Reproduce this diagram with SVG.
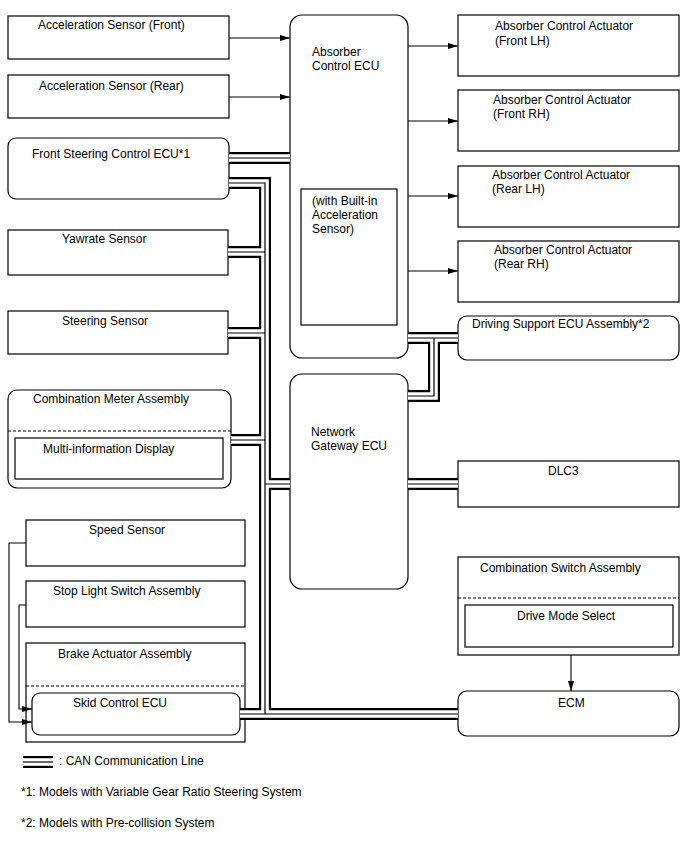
<svg xmlns="http://www.w3.org/2000/svg" xmlns:xlink="http://www.w3.org/1999/xlink" width="688" height="852" viewBox="0 0 688 852">
<style>
  .box{fill:#fff;stroke:#000;stroke-width:1.2}
  .inner{fill:none;stroke:#000;stroke-width:1.2}
  .dash{fill:none;stroke:#000;stroke-width:1;stroke-dasharray:3 2}
  .t{font-family:"Liberation Sans",Arial,sans-serif;font-size:12px;fill:#000}
  .arr{fill:none;stroke:#000;stroke-width:1.1;marker-end:url(#ah)}
  .canA{fill:none;stroke:#000;stroke-width:12;stroke-linejoin:miter}
  .canB{fill:none;stroke:#fff;stroke-width:7.6;stroke-linejoin:miter}
  .canC{fill:none;stroke:#000;stroke-width:1.2;stroke-linejoin:miter}
</style>
<defs>
  <marker id="ah" markerWidth="10" markerHeight="6" refX="10" refY="3" orient="auto" markerUnits="userSpaceOnUse">
    <path d="M0,0 L10,3 L0,6 Z" fill="#000"/>
  </marker>
  <path id="canPaths" d="M229 158 H290 M229 183 H265 V714 M228 252 H265 M228 333 H265 M231 440 H265 M265 484 H290 M240 714 H458 M408 338 H458 M408 396 H434 V338 M408 484 H458"/>
  <path id="legendCan" d="M23 762 H53"/>
</defs>
<rect width="688" height="852" fill="#fff"/>

<g id="nodes">
  <g id="accFront"><rect class="box" x="8" y="16" width="221" height="43"/><text class="t" x="38" y="29">Acceleration Sensor (Front)</text></g>
  <g id="accRear"><rect class="box" x="8" y="75" width="221" height="43"/><text class="t" x="39" y="90">Acceleration Sensor (Rear)</text></g>
  <g id="frontSteer"><rect class="box" x="8" y="138" width="221" height="61" rx="8"/><text class="t" x="32" y="158">Front Steering Control ECU*1</text></g>
  <g id="yawrate"><rect class="box" x="8" y="230" width="220" height="45"/><text class="t" x="62" y="243">Yawrate Sensor</text></g>
  <g id="steering"><rect class="box" x="8" y="311" width="220" height="43"/><text class="t" x="62" y="325">Steering Sensor</text></g>
  <g id="combMeter"><rect class="box" x="8" y="390" width="223" height="98" rx="9"/><line class="dash" x1="8" y1="431" x2="231" y2="431"/><rect class="inner" x="15" y="438" width="208" height="41"/><text class="t" x="33" y="403">Combination Meter Assembly</text><text class="t" x="43" y="453">Multi-information Display</text></g>
  <g id="speed"><rect class="box" x="26" y="520" width="219" height="46"/><text class="t" x="89" y="534">Speed Sensor</text></g>
  <g id="stopLight"><rect class="box" x="26" y="581" width="219" height="46"/><text class="t" x="53" y="595">Stop Light Switch Assembly</text></g>
  <g id="brake"><rect class="box" x="26" y="643" width="219" height="99"/><line class="dash" x1="26" y1="686" x2="245" y2="686"/><text class="t" x="58" y="658">Brake Actuator Assembly</text></g>
  <g id="skid"><rect class="box" x="32" y="693" width="208" height="42" rx="8"/><text class="t" x="73" y="707">Skid Control ECU</text></g>
  <g id="absorberEcu"><rect class="box" x="290" y="15" width="118" height="343" rx="12"/><rect class="inner" x="301" y="189" width="96" height="136"/><text class="t" x="312" y="56">Absorber</text><text class="t" x="312" y="70">Control ECU</text><text class="t" x="312" y="205">(with Built-in</text><text class="t" x="312" y="219">Acceleration</text><text class="t" x="312" y="233">Sensor)</text></g>
  <g id="gateway"><rect class="box" x="290" y="374" width="118" height="215" rx="12"/><text class="t" x="311" y="436">Network</text><text class="t" x="311" y="450">Gateway ECU</text></g>
  <g id="actFL"><rect class="box" x="458" y="15" width="221" height="61"/><text class="t" x="495" y="30">Absorber Control Actuator</text><text class="t" x="495" y="45">(Front LH)</text></g>
  <g id="actFR"><rect class="box" x="458" y="90" width="221" height="61"/><text class="t" x="493" y="104">Absorber Control Actuator</text><text class="t" x="493" y="118">(Front RH)</text></g>
  <g id="actRL"><rect class="box" x="458" y="166" width="221" height="61"/><text class="t" x="492" y="179">Absorber Control Actuator</text><text class="t" x="492" y="193">(Rear LH)</text></g>
  <g id="actRR"><rect class="box" x="458" y="241" width="221" height="61"/><text class="t" x="494" y="254">Absorber Control Actuator</text><text class="t" x="494" y="268">(Rear RH)</text></g>
  <g id="drivingSupport"><rect class="box" x="458" y="316" width="221" height="44" rx="9"/><text class="t" x="472" y="328">Driving Support ECU Assembly*2</text></g>
  <g id="dlc3"><rect class="box" x="458" y="461" width="221" height="46"/><text class="t" x="548" y="475">DLC3</text></g>
  <g id="combSwitch"><rect class="box" x="458" y="557" width="221" height="98"/><line class="dash" x1="458" y1="598" x2="679" y2="598"/><rect class="inner" x="465" y="605" width="208" height="42"/><text class="t" x="480" y="572">Combination Switch Assembly</text><text class="t" x="517" y="620">Drive Mode Select</text></g>
  <g id="ecm"><rect class="box" x="458" y="691" width="221" height="45" rx="9"/><text class="t" x="558" y="707">ECM</text></g>
</g>

<g id="connectors">
  <path class="arr" d="M229 38 H290"/>
  <path class="arr" d="M229 97 H290"/>
  <path class="arr" d="M408 46 H458"/>
  <path class="arr" d="M408 121 H458"/>
  <path class="arr" d="M408 196 H458"/>
  <path class="arr" d="M408 271 H458"/>
  <path class="arr" d="M571 655 V691"/>
  <path class="arr" d="M26 543 H9 V722 H32"/>
  <path class="arr" d="M26 605 H19 V709 H32"/>
  <use xlink:href="#canPaths" class="canA"/>
  <use xlink:href="#canPaths" class="canB"/>
  <use xlink:href="#canPaths" class="canC"/>
</g>

<g id="legend">
  <use xlink:href="#legendCan" class="canA"/>
  <use xlink:href="#legendCan" class="canB"/>
  <use xlink:href="#legendCan" class="canC"/>
  <text class="t" x="59" y="765">: CAN Communication Line</text>
  <text class="t" x="21" y="796">*1: Models with Variable Gear Ratio Steering System</text>
  <text class="t" x="21" y="827">*2: Models with Pre-collision System</text>
</g>
</svg>
